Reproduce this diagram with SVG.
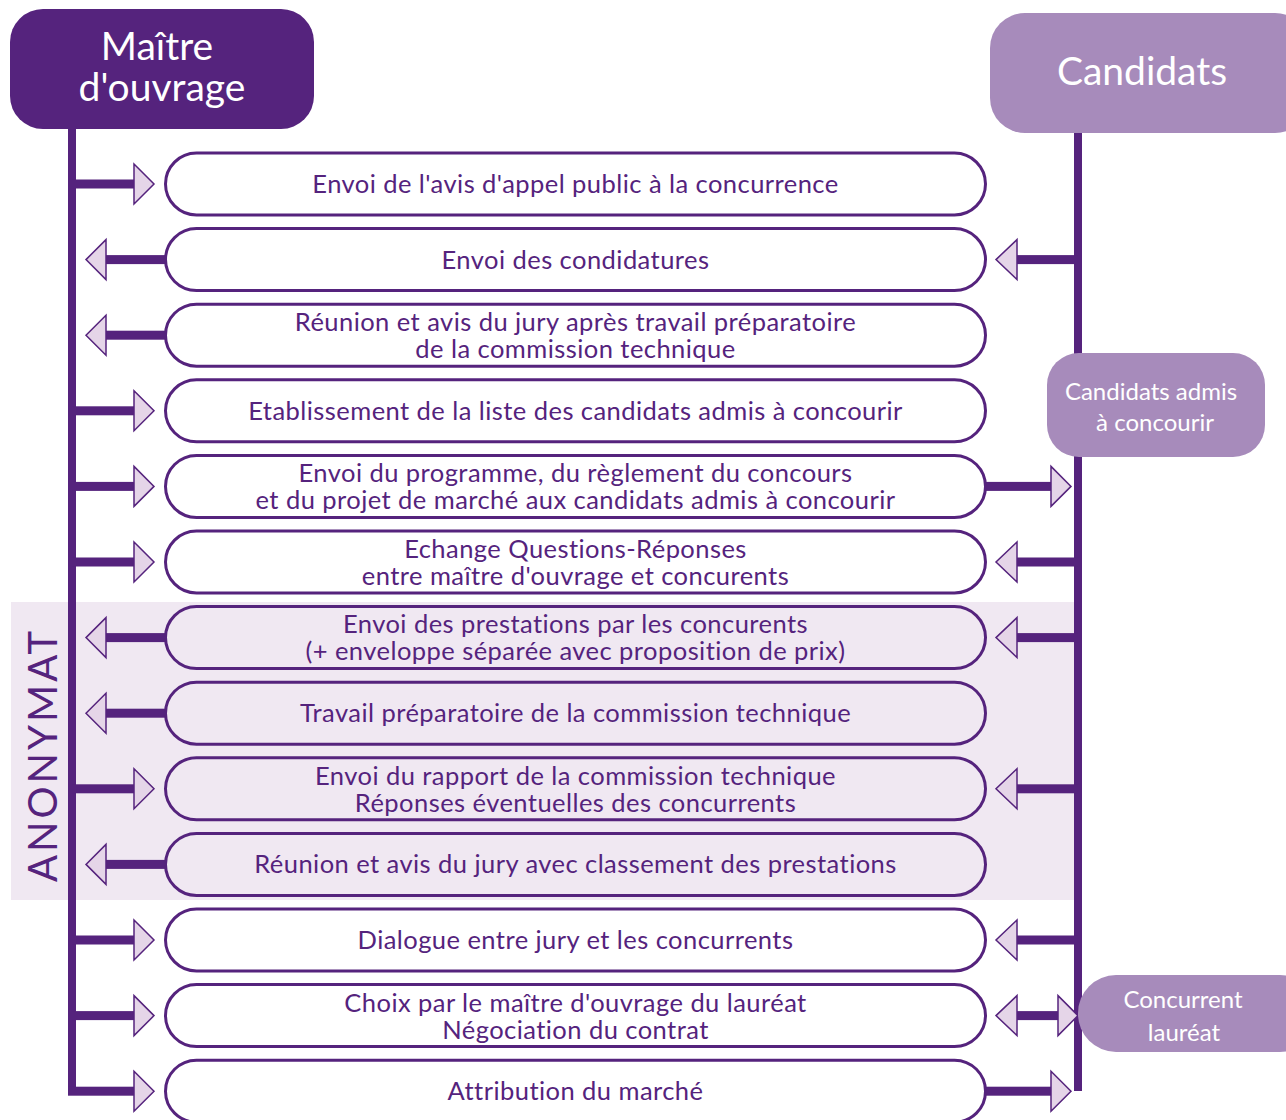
<svg xmlns="http://www.w3.org/2000/svg" width="1286" height="1120" viewBox="0 0 1286 1120">
<defs>
<style>
.bg{fill:#ffffff}
.band{fill:#f0e8f2}
.vline{stroke:#55237d;stroke-width:8;fill:none}
.pill{fill:none;stroke:#55237d;stroke-width:3}
.bar{fill:#55237d}
.head{fill:#e5d5e8;stroke:#55237d;stroke-width:1.5;stroke-linejoin:miter}
.t{font-family:"Lato","Liberation Sans",sans-serif;font-size:25.5px;letter-spacing:0.45px;fill:#55237d;text-anchor:middle}
.h{font-family:"Lato","Liberation Sans",sans-serif;font-size:39px;fill:#ffffff;text-anchor:middle}
.s{font-family:"Lato","Liberation Sans",sans-serif;font-size:24px;fill:#ffffff;text-anchor:middle}
.anon{font-family:"Lato","Liberation Sans",sans-serif;font-size:40px;fill:#55237d;text-anchor:middle;letter-spacing:3px}
.dark{fill:#55237d}
.light{fill:#a78bbb}
</style>
</defs>
<rect class="bg" x="0" y="0" width="1286" height="1120"/>
<rect id="anonymat-band" class="band" x="11" y="602" width="1064" height="298"/>
<text class="anon" transform="translate(57,755) rotate(-90)">ANONYMAT</text>

<g id="connectors">
<path class="vline" d="M72,125 V1095"/>
<path class="vline" d="M1078,130 V1091"/>
<!-- row 1 -->
<rect class="bar" x="72" y="179.5" width="63" height="9"/><polygon class="head" points="134,164 154,184 134,204"/>
<!-- row 2 -->
<rect class="bar" x="105" y="255.1" width="60" height="9"/><polygon class="head" points="106,239.6 86,259.6 106,279.6"/>
<rect class="bar" x="1016" y="255.1" width="62" height="9"/><polygon class="head" points="1017,239.6 996,259.6 1017,279.6"/>
<!-- row 3 -->
<rect class="bar" x="105" y="330.7" width="60" height="9"/><polygon class="head" points="106,315.2 86,335.2 106,355.2"/>
<!-- row 4 -->
<rect class="bar" x="72" y="406.3" width="63" height="9"/><polygon class="head" points="134,390.8 154,410.8 134,430.8"/>
<!-- row 5 -->
<rect class="bar" x="72" y="481.9" width="63" height="9"/><polygon class="head" points="134,466.4 154,486.4 134,506.4"/>
<rect class="bar" x="986" y="481.9" width="66" height="9"/><polygon class="head" points="1051,466.4 1071,486.4 1051,506.4"/>
<!-- row 6 -->
<rect class="bar" x="72" y="557.5" width="63" height="9"/><polygon class="head" points="134,542 154,562 134,582"/>
<rect class="bar" x="1016" y="557.5" width="62" height="9"/><polygon class="head" points="1017,542 996,562 1017,582"/>
<!-- row 7 -->
<rect class="bar" x="105" y="633.1" width="60" height="9"/><polygon class="head" points="106,617.6 86,637.6 106,657.6"/>
<rect class="bar" x="1016" y="633.1" width="62" height="9"/><polygon class="head" points="1017,617.6 996,637.6 1017,657.6"/>
<!-- row 8 -->
<rect class="bar" x="105" y="708.7" width="60" height="9"/><polygon class="head" points="106,693.2 86,713.2 106,733.2"/>
<!-- row 9 -->
<rect class="bar" x="72" y="784.3" width="63" height="9"/><polygon class="head" points="134,768.8 154,788.8 134,808.8"/>
<rect class="bar" x="1016" y="784.3" width="62" height="9"/><polygon class="head" points="1017,768.8 996,788.8 1017,808.8"/>
<!-- row 10 -->
<rect class="bar" x="105" y="859.9" width="60" height="9"/><polygon class="head" points="106,844.4 86,864.4 106,884.4"/>
<!-- row 11 -->
<rect class="bar" x="72" y="935.5" width="63" height="9"/><polygon class="head" points="134,920 154,940 134,960"/>
<rect class="bar" x="1016" y="935.5" width="62" height="9"/><polygon class="head" points="1017,920 996,940 1017,960"/>
<!-- row 12 -->
<rect class="bar" x="72" y="1011.1" width="63" height="9"/><polygon class="head" points="134,995.6 154,1015.6 134,1035.6"/>
<rect class="bar" x="1016" y="1011.1" width="43" height="9"/><polygon class="head" points="1017,995.6 996,1015.6 1017,1035.6"/><polygon class="head" points="1058,995.6 1078,1015.6 1058,1035.6"/>
<!-- row 13 -->
<rect class="bar" x="68" y="1086.7" width="67" height="9"/><polygon class="head" points="134,1071.2 154,1091.2 134,1111.2"/>
<rect class="bar" x="986" y="1086.7" width="66" height="9"/><polygon class="head" points="1051,1071.2 1071,1091.2 1051,1111.2"/>
</g>

<g id="maitre"><rect class="dark" x="10" y="9" width="304" height="120" rx="33"/><text class="h" x="157" y="60">Maître</text><text class="h" x="162" y="101">d'ouvrage</text></g>
<g id="candidats"><rect class="light" x="990" y="13" width="320" height="120" rx="35"/><text class="h" x="1142" y="85">Candidats</text></g>
<g id="candidats-admis"><rect class="light" x="1047" y="353" width="218" height="104" rx="32"/><text class="s" x="1151" y="400">Candidats admis</text><text class="s" x="1155" y="431">à concourir</text></g>
<g id="concurrent-laureat"><rect class="light" x="1078" y="975" width="240" height="77" rx="38"/><text class="s" x="1183" y="1008">Concurrent</text><text class="s" x="1184" y="1041">lauréat</text></g>

<g id="step1"><rect class="pill" x="165.5" y="153" width="820" height="62" rx="31"/><text class="t" x="575.5" y="193">Envoi de l'avis d'appel public à la concurrence</text></g>
<g id="step2"><rect class="pill" x="165.5" y="228.6" width="820" height="62" rx="31"/><text class="t" x="575.5" y="268.6">Envoi des condidatures</text></g>
<g id="step3"><rect class="pill" x="165.5" y="304.2" width="820" height="62" rx="31"/><text class="t" x="575.5" y="331">Réunion et avis du jury après travail préparatoire</text><text class="t" x="575.5" y="357.5">de la commission technique</text></g>
<g id="step4"><rect class="pill" x="165.5" y="379.8" width="820" height="62" rx="31"/><text class="t" x="575.5" y="419.8">Etablissement de la liste des candidats admis à concourir</text></g>
<g id="step5"><rect class="pill" x="165.5" y="455.4" width="820" height="62" rx="31"/><text class="t" x="575.5" y="482">Envoi du programme, du règlement du concours</text><text class="t" x="575.5" y="509">et du projet de marché aux candidats admis à concourir</text></g>
<g id="step6"><rect class="pill" x="165.5" y="531" width="820" height="62" rx="31"/><text class="t" x="575.5" y="557.5">Echange Questions-Réponses</text><text class="t" x="575.5" y="584.5">entre maître d'ouvrage et concurents</text></g>
<g id="step7"><rect class="pill" x="165.5" y="606.6" width="820" height="62" rx="31"/><text class="t" x="575.5" y="633">Envoi des prestations par les concurents</text><text class="t" x="575.5" y="660">(+ enveloppe séparée avec proposition de prix)</text></g>
<g id="step8"><rect class="pill" x="165.5" y="682.2" width="820" height="62" rx="31"/><text class="t" x="575.5" y="722">Travail préparatoire de la commission technique</text></g>
<g id="step9"><rect class="pill" x="165.5" y="757.8" width="820" height="62" rx="31"/><text class="t" x="575.5" y="784.5">Envoi du rapport de la commission technique</text><text class="t" x="575.5" y="811.5">Réponses éventuelles des concurrents</text></g>
<g id="step10"><rect class="pill" x="165.5" y="833.4" width="820" height="62" rx="31"/><text class="t" x="575.5" y="873.4">Réunion et avis du jury avec classement des prestations</text></g>
<g id="step11"><rect class="pill" x="165.5" y="909" width="820" height="62" rx="31"/><text class="t" x="575.5" y="949">Dialogue entre jury et les concurrents</text></g>
<g id="step12"><rect class="pill" x="165.5" y="984.6" width="820" height="62" rx="31"/><text class="t" x="575.5" y="1011.5">Choix par le maître d'ouvrage du lauréat</text><text class="t" x="575.5" y="1038.5">Négociation du contrat</text></g>
<g id="step13"><rect class="pill" x="165.5" y="1060.2" width="820" height="62" rx="31"/><text class="t" x="575.5" y="1100">Attribution du marché</text></g>
</svg>
